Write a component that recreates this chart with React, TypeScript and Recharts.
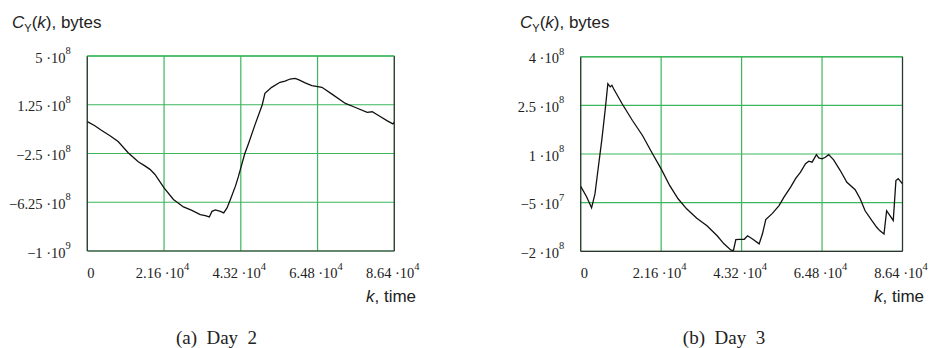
import React from 'react';
import { LineChart, Line, XAxis, YAxis, CartesianGrid, ReferenceLine } from 'recharts';

// Time axis, seconds of the day
const timeTicks = [0, 21600, 43200, 64800, 86400];

// Day 2: cumulative byte deviation C_Y(k)
const dayTwoTicks = [-1e9, -6.25e8, -2.5e8, 1.25e8, 5e8];
const dayTwoTime = [
  0, 2000, 3960, 6500, 8680, 11500, 14340, 16200, 17640, 19050, 21600, 24240, 27070, 29430,
  31790, 33200, 34340, 35090, 36030, 37450, 38390, 39330, 40270, 41690, 42500, 43200, 44330,
  45280, 47160, 49240, 49990, 51880, 54240, 55650, 57070, 58480, 59420, 61310, 63190, 66030,
  68860, 72640, 75470, 78770, 80190, 82080, 84440, 86000, 86400,
];
const dayTwoBytes = [
  -5e6, -35e6, -71e6, -115e6, -158e6, -244e6, -313e6, -345e6, -372e6, -411e6, -514e6, -604e6,
  -661e6, -687e6, -720e6, -728e6, -738e6, -695e6, -684e6, -695e6, -707e6, -669e6, -604e6,
  -501e6, -430e6, -360e6, -250e6, -180e6, -32e6, 125e6, 213e6, 259e6, 298e6, 306e6, 323e6,
  328e6, 318e6, 293e6, 272e6, 259e6, 207e6, 135e6, 104e6, 66e6, 71e6, 40e6, 1e6, -22e6, -10e6,
];

// Day 3: cumulative byte deviation C_Y(k)
const dayThreeTicks = [-2e8, -5e7, 1e8, 2.5e8, 4e8];
const dayThreeTime = [
  0, 1550, 2920, 3830, 4740, 5650, 6560, 7290, 7930, 8380, 8840, 11120, 13850, 16590, 19320,
  21600, 23880, 26150, 28430, 31170, 33900, 36640, 38460, 40280, 41000, 41650, 42560, 43930,
  44800, 46130, 47910, 48800, 49690, 51470, 53250, 54580, 56360, 57690, 59020, 60360, 61250,
  62130, 63290, 63910, 64800, 65690, 66580, 67910, 69690, 71470, 73690, 75030, 76360, 78140,
  79470, 80360, 81430, 82140, 83030, 83920, 84630, 85250, 86400,
];
const dayThreeBytes = [
  0, -31e6, -66e6, -23e6, 60e6, 142e6, 235e6, 317e6, 307e6, 312e6, 301e6, 255e6, 204e6, 157e6,
  100e6, 54e6, 3e6, -38e6, -69e6, -98e6, -121e6, -152e6, -177e6, -196e6, -198e6, -164e6,
  -163e6, -163e6, -152e6, -162e6, -177e6, -146e6, -102e6, -83e6, -59e6, -33e6, -2e6, 24e6,
  44e6, 70e6, 78e6, 75e6, 98e6, 88e6, 85e6, 90e6, 98e6, 82e6, 49e6, 13e6, -10e6, -38e6, -75e6,
  -105e6, -126e6, -137e6, -147e6, -75e6, -90e6, -105e6, 18e6, 24e6, 8e6,
];

const SERIF = '"Liberation Serif", "Times New Roman", serif';
const SANS = '"Liberation Sans", Arial, sans-serif';
const GRID = '#3db65c';
const Y_AXIS_W = 80;
const X_AXIS_H = 40;

// Splits a value into "m ·10" and its exponent, e.g. 1.25e8 -> ["1.25 ·10", "8"]
function sciParts(v: number): [string, string] | null {
  if (v === 0) return null;
  const exp = Math.floor(Math.log10(Math.abs(v)) + 1e-9);
  const mant = +(v / Math.pow(10, exp)).toFixed(2);
  return [`${mant < 0 ? '\u2212' : ''}${Math.abs(mant)} \u00b710`, String(exp)];
}

function SciText(props: { x: number; y: number; value: number; anchor: string; dx?: number }) {
  const parts = sciParts(props.value);
  return (
    <text
      x={props.x + (props.dx || 0)}
      y={props.y}
      textAnchor={props.anchor}
      fontFamily={SERIF}
      fontSize={14.5}
      fill="#222"
    >
      {parts ? (
        <>
          <tspan>{parts[0]}</tspan>
          <tspan fontSize={10.5} dy={-8.5}>
            {parts[1]}
          </tspan>
        </>
      ) : (
        '0'
      )}
    </text>
  );
}

type PanelProps = {
  time: number[];
  bytes: number[];
  yTicks: number[];
  plot: { top: number; right: number; bottom: number; left: number };
};

function Panel({ time, bytes, yTicks, plot }: PanelProps) {
  const rows = time.map((k, i) => ({ k, c: bytes[i] }));
  const yMin = yTicks[0];
  const yMax = yTicks[yTicks.length - 1];
  const plotBottom = 348 - plot.bottom;
  const labelRight = plot.left - 16.5;
  const margin = {
    top: plot.top,
    right: plot.right,
    bottom: plot.bottom - X_AXIS_H,
    left: plot.left - Y_AXIS_W,
  };
  return (
    <LineChart width={465} height={348} data={rows} margin={margin}>
      <CartesianGrid stroke={GRID} strokeWidth={1.2} />
      <XAxis
        dataKey="k"
        type="number"
        domain={[0, 86400]}
        ticks={timeTicks}
        allowDataOverflow
        height={X_AXIS_H}
        axisLine={false}
        tickLine={false}
        interval={0}
        tick={(p: any) => (
          <SciText
            key={`x-${p.payload.value}`}
            x={p.x}
            y={plotBottom + 27}
            value={p.payload.value}
            anchor={p.payload.value === 0 ? 'start' : 'middle'}
            dx={p.payload.value === 0 ? 0 : -1.5}
          />
        )}
      />
      <YAxis
        type="number"
        domain={[yMin, yMax]}
        ticks={yTicks}
        allowDataOverflow
        width={Y_AXIS_W}
        axisLine={false}
        tickLine={false}
        interval={0}
        tick={(p: any) => (
          <SciText
            key={`y-${p.payload.value}`}
            x={labelRight}
            y={p.y + 6.5}
            value={p.payload.value}
            anchor="end"
          />
        )}
      />
      <ReferenceLine x={0} stroke="#333" strokeWidth={1.2} />
      <ReferenceLine x={86400} stroke="#333" strokeWidth={1.2} />
      <ReferenceLine y={yMin} stroke="#333" strokeWidth={1.2} />
      <ReferenceLine y={yMax} stroke={GRID} strokeWidth={1.4} />
      <Line
        type="linear"
        dataKey="c"
        stroke="#111"
        strokeWidth={1.3}
        dot={false}
        isAnimationActive={false}
      />
    </LineChart>
  );
}

function Title({ x }: { x: number }) {
  return (
    <text x={x} y={27.5} fontFamily={SANS} fontSize={17} fill="#222">
      <tspan fontStyle="italic">C</tspan>
      <tspan fontSize={11} dy={4}>
        Y
      </tspan>
      <tspan dy={-4}>(</tspan>
      <tspan fontStyle="italic">k</tspan>
      <tspan>), bytes</tspan>
    </text>
  );
}

function AxisName({ x }: { x: number }) {
  return (
    <text x={x} y={301.5} fontFamily={SANS} fontSize={17} fill="#222">
      <tspan fontStyle="italic">k</tspan>
      <tspan>, time</tspan>
    </text>
  );
}

function Caption({ x, text }: { x: number; text: string }) {
  return (
    <text
      x={x}
      y={343.5}
      textAnchor="middle"
      fontFamily={SERIF}
      fontSize={19}
      fill="#222"
      style={{ whiteSpace: 'pre' }}
      xmlSpace="preserve"
    >
      {text}
    </text>
  );
}

export default function App() {
  return (
    <div
      style={{
        position: 'absolute',
        left: 0,
        top: 0,
        width: 930,
        height: 348,
        background: '#fff',
        overflow: 'hidden',
      }}
    >
      <div style={{ position: 'absolute', left: 0, top: 0 }}>
        <Panel
          time={dayTwoTime}
          bytes={dayTwoBytes}
          yTicks={dayTwoTicks}
          plot={{ top: 56, right: 70.7, bottom: 97, left: 87.3 }}
        />
      </div>
      <div style={{ position: 'absolute', left: 465, top: 0 }}>
        <Panel
          time={dayThreeTime}
          bytes={dayThreeBytes}
          yTicks={dayThreeTicks}
          plot={{ top: 56.7, right: 27.5, bottom: 96.7, left: 115.7 }}
        />
      </div>
      <svg
        width={930}
        height={348}
        style={{ position: 'absolute', left: 0, top: 0, pointerEvents: 'none' }}
      >
        <Title x={12} />
        <Title x={520} />
        <AxisName x={366} />
        <AxisName x={874} />
        <Caption x={216.5} text="(a)  Day  2" />
        <Caption x={724} text="(b)  Day  3" />
      </svg>
    </div>
  );
}
